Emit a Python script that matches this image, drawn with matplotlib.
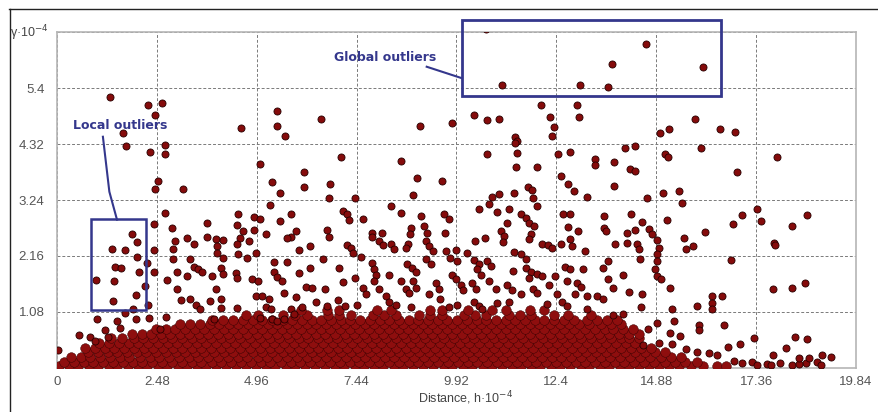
import matplotlib
matplotlib.use("Agg")
import matplotlib.pyplot as plt
from matplotlib.patches import Rectangle
from matplotlib.lines import Line2D

# ---------------- data ----------------
x_ticks = [0, 2.48, 4.96, 7.44, 9.92, 12.4, 14.88, 17.36, 19.84]
x_tick_labels = ["0", "2.48", "4.96", "7.44", "9.92", "12.4", "14.88", "17.36", "19.84"]
y_ticks = [0, 1.08, 2.16, 3.24, 4.32, 5.4, 6.48]
y_tick_labels = ["", "1.08", "2.16", "3.24", "4.32", "5.4", ""]

global_outliers = [(10.66, 6.54), (11.05, 5.45), (12.99, 5.45), (13.68, 5.41),
                   (13.78, 5.86), (14.62, 6.25), (16.05, 5.80)]

upper_points = [
    (1.32, 5.23), (2.26, 5.07), (2.60, 5.11), (2.44, 4.87), (1.65, 4.53), (1.72, 4.28),
    (2.31, 4.16), (2.69, 4.31), (2.68, 4.12), (4.57, 4.63), (5.46, 4.96), (5.46, 4.67),
    (5.65, 4.47), (6.56, 4.81), (5.04, 3.93), (6.14, 3.78), (7.05, 4.06), (5.34, 3.58),
    (5.54, 3.38), (6.14, 3.50), (6.78, 3.54), (2.50, 3.60), (2.44, 3.45), (3.13, 3.45),
    (9.02, 4.67), (9.80, 4.72), (8.53, 3.99), (8.94, 3.66), (9.57, 3.61), (8.83, 3.34),
    (6.76, 3.27), (7.40, 3.28), (10.36, 4.88), (10.67, 4.78), (10.98, 4.80),
    (11.38, 4.45), (11.41, 4.38), (11.37, 4.34), (10.68, 4.12), (11.41, 4.15),
    (11.39, 3.87), (11.91, 3.87), (12.03, 5.07), (12.25, 4.84), (12.33, 4.64),
    (12.28, 4.47), (12.43, 4.12), (12.75, 4.16), (12.90, 5.07), (12.95, 4.84),
    (13.36, 4.04), (13.36, 3.91), (13.84, 3.97), (14.23, 3.83), (14.34, 3.79),
    (14.11, 4.24), (14.36, 4.29), (14.98, 4.53), (15.20, 4.60), (15.10, 4.13),
    (15.16, 4.07), (15.85, 4.80), (15.99, 4.24), (16.47, 4.61), (16.83, 4.56),
    (16.89, 3.78), (17.88, 4.06), (13.84, 3.51), (15.04, 3.38), (15.44, 3.42),
    (14.64, 3.28), (15.53, 3.18), (10.79, 3.29), (10.98, 3.36), (11.35, 3.38),
    (11.70, 3.49), (11.80, 3.43), (12.51, 3.71), (12.69, 3.54), (12.84, 3.41),
    (13.17, 3.30), (10.73, 3.16), (11.82, 3.28), (11.91, 3.12), (10.49, 3.07),
    (10.93, 3.01), (11.23, 3.07),
]

left_points = [
    (2.67, 2.99), (2.40, 2.77), (2.85, 2.70), (1.86, 2.58), (1.98, 2.43), (2.92, 2.44),
    (1.36, 2.29), (1.68, 2.27), (1.98, 2.15), (2.40, 2.27), (2.87, 2.29), (2.87, 2.10),
    (2.23, 2.02), (1.44, 1.94), (1.58, 1.92), (2.03, 1.86), (2.40, 1.86), (2.97, 1.86),
    (0.97, 1.69), (1.41, 1.67), (2.18, 1.59), (2.72, 1.69), (2.97, 1.53), (1.96, 1.40),
    (1.39, 1.30), (3.09, 1.32), (2.25, 1.22), (1.88, 1.14), (1.68, 1.07), (2.70, 0.99),
    (0.99, 0.95), (1.49, 0.91), (1.96, 0.95), (2.28, 0.97), (0.55, 0.64), (0.82, 0.60),
    (0.94, 0.52), (1.19, 0.74), (1.26, 0.60), (1.56, 0.78), (0.03, 0.35), (2.55, 0.76),
]

mid_points_a = [
    (5.29, 3.14), (5.81, 2.97), (4.50, 2.97), (4.90, 2.91), (5.04, 2.87), (3.73, 2.79),
    (5.54, 2.83), (4.48, 2.75), (4.62, 2.64), (4.90, 2.66), (5.19, 2.58), (5.93, 2.64),
    (5.81, 2.52), (5.71, 2.50), (3.24, 2.50), (3.73, 2.52), (3.96, 2.48), (4.11, 2.46),
    (4.55, 2.50), (4.77, 2.44), (3.41, 2.39), (3.98, 2.35), (4.48, 2.39), (6.28, 2.35),
    (6.01, 2.27), (4.95, 2.21), (3.98, 2.21), (4.13, 2.13), (4.50, 2.19), (4.72, 2.13),
    (3.31, 2.11), (5.39, 2.04), (5.71, 2.04), (3.41, 1.94), (3.51, 1.90), (4.08, 1.92),
    (5.39, 1.86), (6.28, 1.92), (6.01, 1.84), (4.45, 1.84), (4.13, 1.82), (3.61, 1.86),
    (3.24, 1.77), (3.86, 1.78), (4.48, 1.73), (4.85, 1.71), (4.99, 1.67), (5.46, 1.75),
    (5.59, 1.67), (6.18, 1.57), (6.33, 1.55), (3.96, 1.53), (5.64, 1.44), (4.95, 1.38),
    (5.09, 1.38), (5.27, 1.34), (5.93, 1.36), (3.31, 1.34), (3.81, 1.30), (4.08, 1.34),
    (3.46, 1.22), (3.56, 1.14), (4.06, 1.16), (4.48, 1.16), (5.19, 1.18), (5.32, 1.14),
    (6.08, 1.18), (6.43, 1.28), (5.04, 0.97), (5.34, 0.95), (5.46, 0.91), (5.81, 1.14),
    (5.88, 1.05), (3.91, 0.95), (5.64, 0.95),
]

mid_points_b = [
    (8.30, 3.12), (8.55, 2.99), (9.04, 2.93), (7.09, 3.03), (7.19, 2.97), (7.24, 2.85),
    (7.59, 2.87), (9.61, 2.97), (9.73, 2.87), (6.70, 2.66), (6.75, 2.52), (7.83, 2.60),
    (7.83, 2.52), (8.08, 2.60), (8.80, 2.70), (8.77, 2.58), (9.12, 2.74), (9.19, 2.60),
    (9.64, 2.60), (8.00, 2.44), (8.10, 2.37), (8.30, 2.39), (8.38, 2.29), (8.72, 2.39),
    (8.67, 2.31), (7.21, 2.37), (7.31, 2.31), (7.34, 2.21), (7.56, 2.15), (9.17, 2.44),
    (9.24, 2.35), (9.34, 2.25), (9.66, 2.25), (9.76, 2.13), (6.60, 2.11), (6.99, 1.92),
    (7.83, 2.02), (8.70, 2.00), (8.82, 1.92), (8.92, 1.86), (9.17, 2.10), (9.29, 2.00),
    (7.88, 1.90), (7.93, 1.79), (8.25, 1.79), (6.65, 1.53), (7.09, 1.65), (7.41, 1.73),
    (7.59, 1.55), (7.88, 1.67), (8.00, 1.53), (8.55, 1.67), (8.67, 1.53), (8.84, 1.67),
    (8.92, 1.55), (9.41, 1.63), (9.49, 1.53), (9.81, 1.80), (9.90, 1.71), (7.68, 1.42),
    (8.18, 1.38), (8.25, 1.28), (8.42, 1.22), (8.75, 1.44), (9.24, 1.42), (9.51, 1.34),
    (9.73, 1.18), (6.97, 1.32), (6.70, 1.20), (7.14, 1.20), (7.44, 1.22), (8.80, 1.18),
]

mid_points_c = [
    (11.52, 2.97), (11.65, 2.89), (11.72, 2.79), (11.18, 2.79), (11.84, 2.74), (12.57, 2.97),
    (12.74, 2.97), (12.69, 2.72), (12.94, 2.64), (11.03, 2.64), (11.10, 2.54), (11.08, 2.43),
    (10.63, 2.50), (10.39, 2.44), (11.77, 2.58), (11.72, 2.48), (12.04, 2.39), (12.20, 2.37),
    (12.30, 2.31), (12.52, 2.39), (12.74, 2.48), (12.79, 2.35), (13.11, 2.25), (11.35, 2.23),
    (11.52, 2.19), (11.65, 2.11), (9.91, 2.27), (10.19, 2.21), (9.94, 2.06), (10.36, 2.08),
    (10.49, 2.00), (10.68, 2.06), (10.78, 1.96), (11.65, 1.92), (11.77, 1.86), (11.91, 1.82),
    (12.04, 1.77), (11.33, 1.88), (12.62, 1.94), (12.74, 1.90), (13.06, 1.90), (10.44, 1.90),
    (10.54, 1.80), (12.37, 1.77), (11.72, 1.73), (12.67, 1.67), (12.91, 1.63), (13.01, 1.57),
    (10.04, 1.61), (10.09, 1.51), (10.31, 1.63), (10.41, 1.53), (10.73, 1.67), (10.91, 1.53),
    (11.18, 1.61), (11.30, 1.51), (11.52, 1.42), (11.82, 1.53), (11.91, 1.44), (12.22, 1.61),
    (12.42, 1.42), (12.86, 1.42), (13.16, 1.38), (10.36, 1.28), (10.49, 1.20), (10.56, 1.13),
    (10.93, 1.26), (11.23, 1.28), (12.17, 1.24), (12.54, 1.28), (12.67, 1.20), (13.16, 1.13),
    (9.94, 1.22),
]

right_points = [
    (13.58, 2.93), (13.58, 2.70), (13.63, 2.64), (14.25, 2.97), (14.52, 2.81), (14.15, 2.60),
    (14.35, 2.66), (14.69, 2.68), (14.77, 2.58), (15.14, 2.85), (16.08, 2.62), (15.56, 2.50),
    (13.85, 2.39), (14.15, 2.41), (14.40, 2.39), (14.44, 2.29), (14.47, 2.11), (14.91, 2.46),
    (14.96, 2.31), (14.91, 2.19), (14.89, 2.06), (14.84, 1.90), (14.89, 1.77), (15.01, 1.71),
    (15.63, 2.29), (15.80, 2.35), (13.68, 2.06), (13.55, 1.92), (14.05, 1.80), (13.68, 1.71),
    (13.80, 1.55), (15.21, 1.55), (14.20, 1.46), (14.52, 1.42), (13.41, 1.38), (13.55, 1.34),
    (16.27, 1.38), (16.27, 1.26), (16.27, 1.14), (16.52, 1.38), (15.88, 1.20), (14.49, 1.18),
    (15.26, 1.14), (14.05, 1.05), (13.80, 1.03), (14.91, 0.87), (15.33, 0.91), (16.57, 0.83),
    (15.95, 0.83), (15.93, 0.74), (15.21, 0.68), (15.46, 0.62), (14.67, 0.76), (14.94, 0.49),
    (14.54, 0.45), (15.28, 0.47), (15.63, 0.37), (15.88, 0.31), (16.20, 0.29), (16.40, 0.25),
    (16.78, 2.77), (17.02, 2.95), (17.37, 3.07), (17.47, 2.83), (18.24, 2.74), (18.63, 2.95),
    (17.81, 2.41), (17.84, 2.37), (16.73, 2.08), (17.77, 1.53), (18.26, 1.55), (18.58, 1.63),
    (17.30, 0.58), (16.65, 0.41), (16.97, 0.47), (18.33, 0.60), (18.63, 0.56), (18.09, 0.39),
    (17.77, 0.25), (19.00, 0.25), (19.22, 0.21), (17.95, 0.10), (18.25, 0.06), (18.60, 0.10),
    (18.88, 0.12), (18.98, 0.06), (18.43, 0.08), (17.02, 0.10), (17.25, 0.12), (16.82, 0.14),
    (17.39, 0.06), (17.62, 0.08), (17.74, 0.06), (18.43, 0.20), (18.68, 0.20),
]

# dense mass near the bottom: one list of x values per y level
band_levels = [0.04, 0.12, 0.21, 0.30, 0.39, 0.48, 0.57, 0.66, 0.75, 0.84, 0.93, 1.02, 1.11]
band_rows = [
    [0.05, 0.3, 0.52, 0.8, 1.02, 1.28, 1.5, 1.77, 2.0, 2.24, 2.5, 2.73, 3.0, 3.22, 3.48, 3.7,
     3.96, 4.2, 4.45, 4.7, 4.93, 5.2, 5.42, 5.68, 5.9, 6.17, 6.4, 6.66, 6.9, 7.13, 7.4, 7.62,
     7.88, 8.1, 8.37, 8.6, 8.85, 9.1, 9.33, 9.6, 9.82, 10.08, 10.3, 10.57, 10.8, 11.05, 11.3,
     11.52, 11.78, 12.0, 12.27, 12.5, 12.75, 13.0, 13.22, 13.48, 13.7, 13.97, 14.2, 14.45,
     14.7, 14.95, 15.2, 15.45, 15.75, 16.05, 16.4, 16.6],
    [0.18, 0.42, 0.66, 0.9, 1.15, 1.4, 1.63, 1.88, 2.12, 2.37, 2.6, 2.86, 3.1, 3.35, 3.58, 3.84,
     4.08, 4.32, 4.57, 4.82, 5.06, 5.3, 5.55, 5.8, 6.04, 6.28, 6.53, 6.78, 7.02, 7.27, 7.5,
     7.75, 8.0, 8.24, 8.48, 8.73, 8.97, 9.22, 9.46, 9.7, 9.95, 10.2, 10.44, 10.68, 10.93,
     11.18, 11.42, 11.66, 11.9, 12.15, 12.4, 12.63, 12.88, 13.12, 13.36, 13.6, 13.85, 14.08,
     14.33, 14.58, 14.82, 15.1, 15.35, 15.6, 15.9],
    [0.35, 0.6, 0.83, 1.08, 1.32, 1.56, 1.8, 2.05, 2.3, 2.53, 2.78, 3.02, 3.27, 3.5, 3.76, 4.0,
     4.24, 4.5, 4.73, 4.98, 5.22, 5.47, 5.7, 5.95, 6.2, 6.44, 6.68, 6.92, 7.17, 7.42, 7.65,
     7.9, 8.15, 8.38, 8.62, 8.87, 9.12, 9.36, 9.6, 9.85, 10.1, 10.33, 10.58, 10.82, 11.07,
     11.3, 11.55, 11.8, 12.04, 12.28, 12.52, 12.77, 13.02, 13.26, 13.5, 13.74, 13.98, 14.22,
     14.48, 14.72, 15.0, 15.25, 15.5],
    [0.78, 1.02, 1.26, 1.5, 1.74, 1.98, 2.22, 2.46, 2.7, 2.95, 3.18, 3.43, 3.66, 3.9, 4.15,
     4.38, 4.62, 4.87, 5.1, 5.35, 5.6, 5.83, 6.08, 6.32, 6.56, 6.8, 7.05, 7.3, 7.53, 7.78,
     8.02, 8.26, 8.5, 8.75, 9.0, 9.24, 9.48, 9.72, 9.97, 10.22, 10.46, 10.7, 10.94, 11.18,
     11.43, 11.67, 11.92, 12.16, 12.4, 12.65, 12.9, 13.14, 13.38, 13.62, 13.86, 14.1, 14.35,
     14.6, 14.85, 15.1],
    [0.7, 0.95, 1.18, 1.42, 1.66, 1.9, 2.15, 2.38, 2.62, 2.87, 3.1, 3.35, 3.58, 3.83, 4.07,
     4.3, 4.55, 4.8, 5.03, 5.28, 5.52, 5.76, 6.0, 6.25, 6.48, 6.73, 6.97, 7.2, 7.45, 7.7,
     7.93, 8.18, 8.42, 8.66, 8.9, 9.14, 9.38, 9.63, 9.88, 10.12, 10.36, 10.6, 10.85, 11.1,
     11.34, 11.58, 11.82, 12.06, 12.3, 12.55, 12.8, 13.04, 13.28, 13.52, 13.76, 14.0, 14.25,
     14.5, 14.75],
    [1.05, 1.3, 1.55, 1.78, 2.02, 2.27, 2.5, 2.75, 2.98, 3.23, 3.47, 3.7, 3.95, 4.2, 4.43,
     4.68, 4.92, 5.16, 5.4, 5.64, 5.88, 6.12, 6.36, 6.6, 6.85, 7.08, 7.33, 7.57, 7.81, 8.05,
     8.3, 8.54, 8.78, 9.02, 9.26, 9.5, 9.75, 10.0, 10.24, 10.48, 10.72, 10.96, 11.2, 11.45,
     11.7, 11.94, 12.18, 12.42, 12.66, 12.9, 13.15, 13.4, 13.64, 13.88, 14.12, 14.35],
    [1.35, 1.62, 1.9, 2.14, 2.38, 2.63, 2.86, 3.1, 3.34, 3.58, 3.82, 4.06, 4.3, 4.55, 4.8,
     5.04, 5.28, 5.52, 5.76, 6.0, 6.24, 6.48, 6.72, 6.96, 7.2, 7.45, 7.7, 7.93, 8.17, 8.42,
     8.66, 8.9, 9.14, 9.38, 9.62, 9.87, 10.12, 10.36, 10.6, 10.84, 11.08, 11.32, 11.57,
     11.82, 12.06, 12.3, 12.54, 12.78, 13.02, 13.27, 13.52, 13.76, 14.0, 14.2, 14.45],
    [1.85, 2.1, 2.34, 2.58, 2.8, 3.05, 3.28, 3.52, 3.76, 4.0, 4.25, 4.5, 4.73, 4.97, 5.22,
     5.46, 5.7, 5.94, 6.18, 6.42, 6.66, 6.9, 7.14, 7.38, 7.63, 7.87, 8.1, 8.35, 8.6, 8.84,
     9.08, 9.32, 9.56, 9.8, 10.05, 10.3, 10.54, 10.78, 11.02, 11.26, 11.5, 11.75, 12.0,
     12.24, 12.48, 12.72, 12.96, 13.2, 13.45, 13.7, 13.95, 14.2, 14.45],
    [2.45, 2.7, 2.94, 3.17, 3.42, 3.66, 3.9, 4.14, 4.38, 4.62, 4.86, 5.1, 5.34, 5.58, 5.82,
     6.06, 6.3, 6.55, 6.79, 7.03, 7.27, 7.51, 7.75, 8.0, 8.24, 8.48, 8.72, 8.96, 9.2, 9.44,
     9.68, 9.92, 10.17, 10.42, 10.66, 10.9, 11.14, 11.38, 11.62, 11.86, 12.1, 12.35, 12.6,
     12.85, 13.1, 13.35, 13.6, 13.8, 14.05, 14.3],
    [3.05, 3.3, 3.55, 3.8, 4.02, 4.27, 4.5, 4.75, 5.0, 5.23, 5.47, 5.72, 5.96, 6.2, 6.44,
     6.68, 6.92, 7.16, 7.4, 7.64, 7.88, 8.12, 8.36, 8.6, 8.84, 9.08, 9.32, 9.57, 9.81, 10.05,
     10.3, 10.54, 10.78, 11.02, 11.26, 11.5, 11.74, 11.98, 12.23, 12.48, 12.72, 12.97, 13.22,
     13.5, 13.75, 14.0],
    [3.85, 4.12, 4.38, 4.62, 4.86, 5.1, 5.35, 5.6, 5.84, 6.08, 6.32, 6.56, 6.8, 7.04, 7.28,
     7.52, 7.77, 8.01, 8.25, 8.49, 8.73, 8.97, 9.21, 9.45, 9.69, 9.93, 10.17, 10.42, 10.66,
     10.9, 11.14, 11.38, 11.62, 11.86, 12.1, 12.35, 12.6, 12.85, 13.15, 13.4, 13.65, 13.9],
    [4.7, 5.0, 5.62, 5.9, 6.2, 6.72, 7.0, 7.3, 7.85, 8.12, 8.42, 8.98,
     9.26, 9.55, 10.1, 10.38, 10.66, 11.22, 11.5, 11.78, 12.35, 12.7, 13.25],
    [6.05, 6.7, 7.0, 7.95, 8.3, 9.25, 9.55, 10.2, 10.8, 11.15, 11.75, 12.1],
]

# ---------------- figure ----------------
W, H = 879, 412
fig = plt.figure(figsize=(W / 100, H / 100), dpi=100)
fig.patch.set_facecolor("white")
ax = fig.add_axes([57 / W, 1 - 368 / H, (856 - 57) / W, (368 - 32) / H])
ax.set_facecolor("white")

face = "#850b0b"
edge = "#260000"
band_face = "#8e0e0e"

band_x = [x for row in band_rows for x in row]
band_y = [lvl for lvl, row in zip(band_levels, band_rows) for _ in row]
ax.scatter(band_x, band_y, s=48, c=band_face, edgecolors="#3a0202", linewidths=0.35,
           zorder=3)

sparse = (global_outliers + upper_points + left_points + mid_points_a + mid_points_b
          + mid_points_c + right_points)
sx = [p[0] for p in sparse]
sy = [p[1] for p in sparse]
ax.scatter(sx, sy, s=26, c=face, edgecolors=edge, linewidths=0.6, zorder=4)

ax.set_xlim(0, 19.84)
ax.set_ylim(0, 6.48)
ax.set_xticks(x_ticks)
ax.set_xticklabels(x_tick_labels)
ax.set_yticks(y_ticks)
ax.set_yticklabels(y_tick_labels)
ax.tick_params(length=0, labelsize=9.5, colors="#555555")
ax.tick_params(axis="x", pad=6)
ax.tick_params(axis="y", pad=9)
for lab in ax.get_xticklabels() + ax.get_yticklabels():
    lab.set_fontfamily("Liberation Sans")
ax.grid(True, linestyle=(0, (3, 2)), color="#7a7a7a", linewidth=0.7, zorder=1)
ax.set_axisbelow(True)
for sp in ax.spines.values():
    sp.set_color("#b5b5b5")
    sp.set_linewidth(1.2)

# axis titles
fig.text(10 / W, 1 - 33 / H, "γ·10$^{-4}$", fontsize=9, color="#444444",
         family="Liberation Sans", va="center", ha="left")
fig.text(466 / W, 1 - 398 / H, "Distance, h·10$^{-4}$", fontsize=9, color="#444444",
         family="Liberation Sans", va="center", ha="center")

# annotations
blue = "#34378c"
ax.add_patch(Rectangle((10.05, 5.25), 16.50 - 10.05, 6.71 - 5.25, fill=False,
                       edgecolor=blue, linewidth=2, clip_on=False, zorder=5))
ax.text(8.16, 5.98, "Global outliers", fontsize=9, fontweight="bold", color=blue,
        ha="center", va="center", zorder=6)
ax.plot([9.18, 10.05], [5.81, 5.59], color=blue, linewidth=1.5, clip_on=False, zorder=5)

ax.add_patch(Rectangle((0.84, 1.12), 2.20 - 0.84, 2.87 - 1.12, fill=False,
                       edgecolor=blue, linewidth=1.8, zorder=5))
ax.text(1.56, 4.67, "Local outliers", fontsize=9, fontweight="bold", color=blue,
        ha="center", va="center", zorder=6)
ax.plot([1.14, 1.30, 1.49], [4.46, 3.40, 2.86], color=blue, linewidth=1.5, zorder=5)

# outer frame of the picture
fig.add_artist(Line2D([9 / W, 1.0], [1 - 9 / H, 1 - 9 / H], transform=fig.transFigure,
                      color="#222222", linewidth=1))
fig.add_artist(Line2D([9.5 / W, 9.5 / W], [0.0, 1 - 9 / H], transform=fig.transFigure,
                      color="#222222", linewidth=1))

fig.savefig("out.png", dpi=100, facecolor="white")
